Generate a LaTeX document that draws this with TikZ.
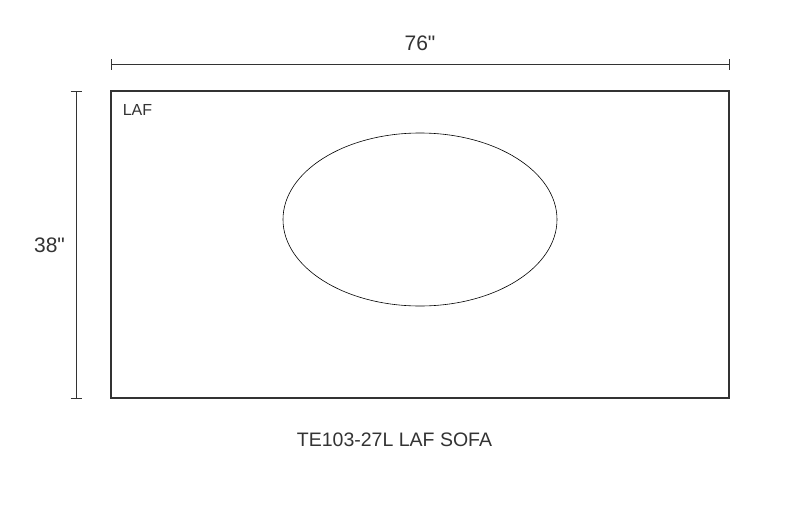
\documentclass[tikz,border=0pt]{standalone}
\usepackage{fontspec}
\setmainfont{Liberation Sans}[Ligatures=TeXOff]
\usetikzlibrary{shapes.geometric}
\definecolor{ink}{HTML}{333333}
\begin{document}
\begin{tikzpicture}[x=1pt,y=-1pt,
  dimline/.style={draw=ink,line width=1pt},
  box/.style={draw=ink,line width=2.2pt},
  lbl/.style={text=ink,inner sep=0pt,anchor=center}]
\useasboundingbox[fill=white] (0,0) rectangle (789,530);
% sofa outline
\draw[box] (111,91) rectangle (729,398);
\node[lbl,font=\fontsize{16}{18}\selectfont] (laf) at (137.5,110) {LAF};
% seat ellipse
\node[draw=black,line width=0.6pt,ellipse,minimum width=274pt,minimum height=173pt,inner sep=0pt] (seat) at (420,219.5) {};
% horizontal dimension
\coordinate (hl) at (111,64);
\coordinate (hr) at (729,64);
\draw[dimline] (hl) -- (hr);
\draw[dimline] ([yshift=-5.5pt]hl) -- ([yshift=5.5pt]hl);
\draw[dimline] ([yshift=-5.5pt]hr) -- ([yshift=5.5pt]hr);
\node[lbl,font=\fontsize{21}{24}\selectfont] (w) at (420,43) {76"};
% vertical dimension
\coordinate (vt) at (76,91);
\coordinate (vb) at (76,398);
\draw[dimline] (vt) -- (vb);
\draw[dimline] ([xshift=-5.5pt]vt) -- ([xshift=5.5pt]vt);
\draw[dimline] ([xshift=-5.5pt]vb) -- ([xshift=5.5pt]vb);
\node[lbl,font=\fontsize{21}{24}\selectfont] (h) at (49.5,245) {38"};
% caption
\node[lbl,font=\fontsize{19.5}{22}\selectfont] (cap) at (394.5,440) {TE103-27L LAF SOFA};
\end{tikzpicture}
\end{document}
